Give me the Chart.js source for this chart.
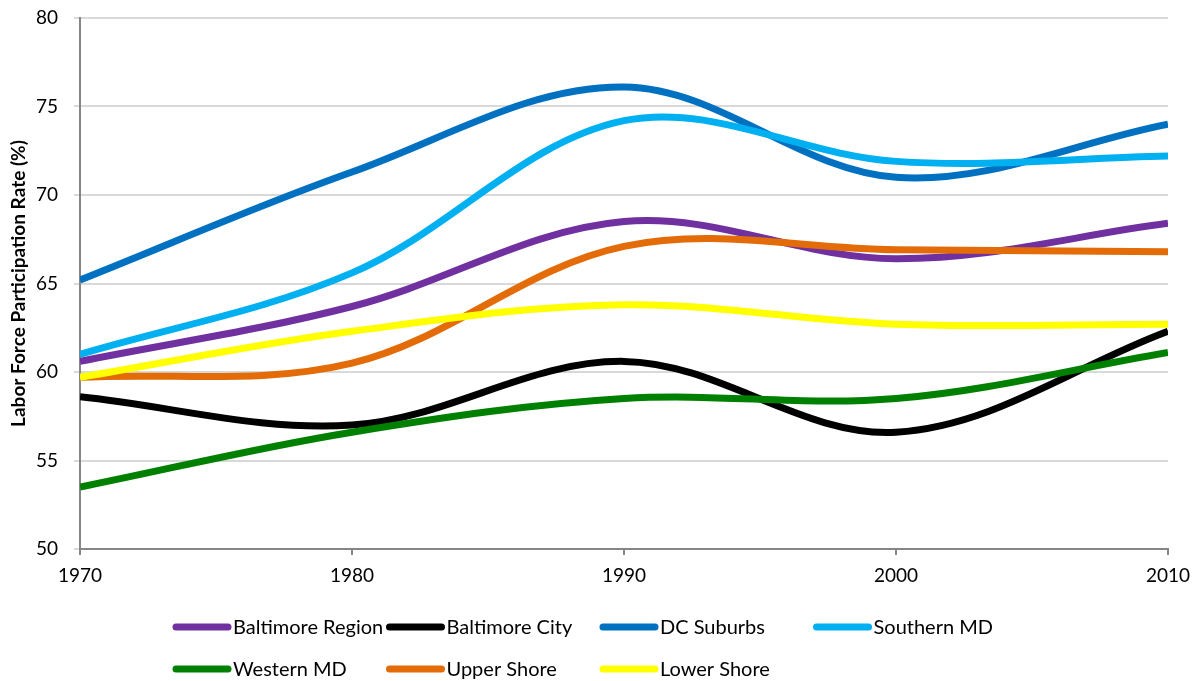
<!DOCTYPE html>
<html>
<head>
<meta charset="utf-8">
<script src="https://cdn.jsdelivr.net/npm/chart.js@4.4.1/dist/chart.umd.min.js"></script>
<style>
  html, body { margin: 0; padding: 0; background: #fff; }
  #wrap { width: 1197px; height: 681px; position: relative; }
</style>
</head>
<body>
<div id="wrap"><canvas id="lfpr"></canvas></div>
<script>
// Labor force participation rate by Maryland region, 1970-2010
const years = [1970, 1980, 1990, 2000, 2010];
const seriesNames = ['Baltimore Region', 'Baltimore City', 'DC Suburbs', 'Southern MD',
                     'Western MD', 'Upper Shore', 'Lower Shore'];
const baltimoreRegion = [60.6, 63.7, 68.5, 66.4, 68.4];
const baltimoreCity   = [58.6, 57.0, 60.6, 56.6, 62.3];
const dcSuburbs       = [65.2, 71.3, 76.1, 71.0, 74.0];
const southernMD      = [61.0, 65.6, 74.2, 71.9, 72.2];
const westernMD       = [53.5, 56.6, 58.5, 58.5, 61.1];
const upperShore      = [59.7, 60.5, 67.1, 66.9, 66.8];
const lowerShore      = [59.7, 62.3, 63.8, 62.7, 62.7];
const yTicks = [50, 55, 60, 65, 70, 75, 80];

const seriesValues = [baltimoreRegion, baltimoreCity, dcSuburbs, southernMD,
                      westernMD, upperShore, lowerShore];
const seriesColors = ['#7030A0', '#000000', '#0070C0', '#00B0F0',
                      '#008000', '#E36C09', '#FFFF00'];

const FONT = 'Lato, "Open Sans", sans-serif';

// legend drawn as a fixed 4-column grid under the axis, like the original
const gridLegend = {
    id: 'gridLegend',
    afterDraw(chart) {
        const c = chart.ctx;
        c.save();
        c.font = '20px ' + FONT;
        c.textBaseline = 'middle';
        c.textAlign = 'left';
        chart.data.datasets.forEach((ds, i) => {
            const col = i % 4, row = Math.floor(i / 4);
            const x0 = 173 + col * 213.5;
            const y0 = 627 + row * 42;
            c.strokeStyle = ds.borderColor;
            c.lineWidth = 7;
            c.lineCap = 'round';
            c.beginPath();
            c.moveTo(x0 + 3, y0);
            c.lineTo(x0 + 55, y0);
            c.stroke();
            c.fillStyle = '#000';
            c.fillText(ds.label, x0 + 60, y0 + 1);
        });
        c.restore();
    }
};

function initChart() {
    const ctx = document.getElementById('lfpr');
    new Chart(ctx, {
        type: 'line',
        data: {
            datasets: seriesNames.map((name, i) => ({
                label: name,
                data: years.map((yr, k) => ({ x: yr, y: seriesValues[i][k] })),
                borderColor: seriesColors[i],
                backgroundColor: seriesColors[i],
                borderWidth: 7,
                pointRadius: 0,
                tension: 0.35,
                fill: false,
                order: seriesNames.length - i
            }))
        },
        options: {
            responsive: true,
            maintainAspectRatio: false,
            animation: false,
            layout: { padding: { top: 18, right: 29, bottom: 92, left: 0 } },
            plugins: { legend: { display: false }, tooltip: { enabled: false } },
            scales: {
                x: {
                    type: 'linear',
                    min: 1970,
                    max: 2010,
                    afterBuildTicks: s => { s.ticks = years.map(v => ({ value: v })); },
                    afterFit: s => {
                        s.height = 40;
                        s.paddingLeft = 0;
                        s.paddingRight = 0;
                    },
                    ticks: {
                        callback: v => String(v),
                        color: '#000',
                        padding: 9,
                        maxRotation: 0,
                        font: { family: FONT, size: 19 }
                    },
                    grid: { drawOnChartArea: false, color: '#868686', tickLength: 6, lineWidth: 2 },
                    border: { color: '#868686', width: 2 }
                },
                y: {
                    min: 50,
                    max: 80,
                    afterBuildTicks: s => { s.ticks = yTicks.map(v => ({ value: v })); },
                    afterFit: s => {
                        s.width = 80;
                        s.paddingTop = 0;
                        s.paddingBottom = 0;
                    },
                    ticks: {
                        color: '#000',
                        padding: 16,
                        font: { family: FONT, size: 19 }
                    },
                    grid: { color: '#D9D9D9', lineWidth: 2, tickLength: 6 },
                    border: { color: '#868686', width: 2 },
                    title: {
                        display: true,
                        text: 'Labor Force Participation Rate (%)',
                        color: '#000',
                        padding: { top: 7, bottom: 0 },
                        font: { family: FONT, size: 19, weight: 'bold' }
                    }
                }
            }
        },
        plugins: [gridLegend]
    });
}

if (window.Chart) {
    initChart();
} else {
    window.addEventListener('load', initChart);
}
</script>
</body>
</html>
